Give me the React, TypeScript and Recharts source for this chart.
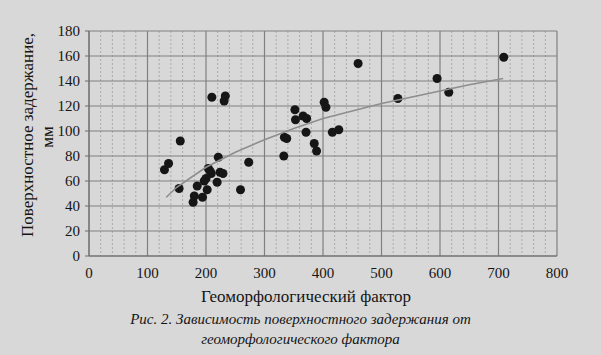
import { ScatterChart, Scatter, XAxis, YAxis, CartesianGrid } from "recharts";

// geomorphological factor vs surface retention (mm)
const factor = [
  129, 136, 154, 156, 178, 180, 185, 194, 197, 200, 202, 204, 207, 209, 210, 219, 221, 224, 229, 231, 233,
  259, 273, 333, 334, 338, 352, 353, 366, 372, 371, 385, 389, 402, 405, 416, 427, 460, 528, 595, 615, 709,
];
const retention = [
  69, 74, 54, 92, 43, 48, 56, 47, 60, 62, 53, 70, 68, 66, 127, 59, 79, 67, 66, 124, 128,
  53, 75, 80, 95, 94, 117, 109, 112, 110, 99, 90, 84, 123, 119, 99, 101, 154, 126, 142, 131, 159,
];

// trend curve
const trendX = [132, 150, 175, 200, 250, 300, 350, 400, 450, 500, 550, 600, 650, 708];
const trendY = [47, 55, 63, 71, 83, 93, 102, 110, 116, 122, 127, 132, 137, 142];

const xTicks = [0, 100, 200, 300, 400, 500, 600, 700, 800];
const xMinorTicks = [
  20, 40, 60, 80, 120, 140, 160, 180, 220, 240, 260, 280, 320, 340, 360, 380,
  420, 440, 460, 480, 520, 540, 560, 580, 620, 640, 660, 680, 720, 740, 760, 780,
];
const yTicks = [0, 20, 40, 60, 80, 100, 120, 140, 160, 180];
const xDomain = [0, 800];

const points = factor.map((x, i) => ({ x, y: retention[i] }));
const trend = trendX.map((x, i) => ({ x, y: trendY[i] }));

const serif = "'Liberation Serif', 'Times New Roman', serif";
const tickStyle = { fill: "#151515", fontSize: 15, fontFamily: serif };

// minor vertical lines every 20 units, placed through the x scale
const minorLines = (props: any) => {
  const scale = props?.xAxis?.scale;
  if (typeof scale === "function") return xMinorTicks.map((t) => scale(t));
  const { left, width } = props.offset;
  return xMinorTicks.map((t) => left + ((t - xDomain[0]) / (xDomain[1] - xDomain[0])) * width);
};

export default function App() {
  return (
    <div
      style={{
        position: "relative",
        width: 601,
        height: 355,
        background: "#d8d8d8",
        fontFamily: serif,
        color: "#151515",
        overflow: "hidden",
      }}
    >
      <style>{`body{margin:0}`}</style>
      <ScatterChart
        width={601}
        height={355}
        margin={{ top: 31, right: 44, bottom: 0, left: 0 }}
        style={{ fontFamily: serif }}
      >
        <CartesianGrid
          horizontal={false}
          stroke="#aaaaaa"
          strokeDasharray="2 2"
          verticalCoordinatesGenerator={minorLines}
        />
        <CartesianGrid stroke="#808080" strokeWidth={1.2} />
        <XAxis
          type="number"
          dataKey="x"
          domain={xDomain}
          ticks={xTicks}
          tick={tickStyle}
          tickSize={0}
          tickMargin={11}
          axisLine={{ stroke: "#6a6a6a" }}
          height={99}
        />
        <YAxis
          type="number"
          dataKey="y"
          domain={[0, 180]}
          ticks={yTicks}
          tick={tickStyle}
          tickSize={4}
          tickMargin={5}
          tickLine={{ stroke: "#6a6a6a" }}
          axisLine={{ stroke: "#6a6a6a" }}
          width={89}
        />
        <Scatter data={points} fill="#161616" isAnimationActive={false} />
        <Scatter
          data={trend}
          line={{ stroke: "#8e8e8e", strokeWidth: 1.6 }}
          shape={() => <g />}
          isAnimationActive={false}
        />
      </ScatterChart>

      <div
        style={{
          position: "absolute",
          left: 28,
          top: 135,
          transform: "translate(-50%, -50%) rotate(-90deg)",
          whiteSpace: "nowrap",
          fontSize: 17,
        }}
      >
        Поверхностное задержание,
      </div>
      <div
        style={{
          position: "absolute",
          left: 48,
          top: 137,
          transform: "translate(-50%, -50%) rotate(-90deg)",
          whiteSpace: "nowrap",
          fontSize: 17,
        }}
      >
        мм
      </div>
      <div
        style={{
          position: "absolute",
          left: 0,
          width: 612,
          top: 287,
          textAlign: "center",
          fontSize: 17,
        }}
      >
        Геоморфологический фактор
      </div>
      <div
        style={{
          position: "absolute",
          left: 0,
          width: 601,
          top: 309,
          textAlign: "center",
          fontSize: 15,
          fontStyle: "italic",
          lineHeight: "20px",
        }}
      >
        Рис. 2. Зависимость поверхностного задержания от
        <br />
        геоморфологического фактора
      </div>
    </div>
  );
}
